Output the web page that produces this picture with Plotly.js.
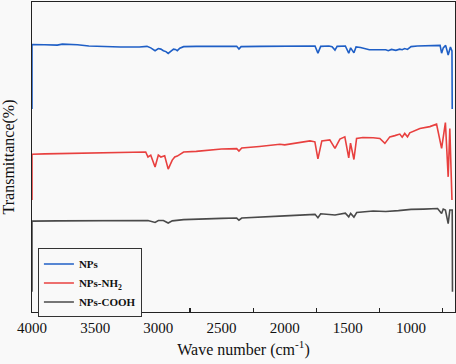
<!DOCTYPE html>
<html>
<head>
<meta charset="utf-8">
<script src="https://cdn.plot.ly/plotly-3.0.1.min.js"></script>
<style>html,body{margin:0;padding:0;background:#f9f9f9;}#chart{width:456px;height:364px;}</style>
</head>
<body>
<div id="chart"></div>
<script>
// Series names
const seriesNames = ["NPs", "NPs-NH<sub>2</sub>", "NPs-COOH"];

// Wavenumbers (cm-1) and transmittance (arbitrary %, offset traces)
const npsWave = [4000,4000,3900,3800,3760,3700,3640,3550,3450,3300,3150,3090,3060,3026,3000,2980,2960,2940,2922,2900,2880,2865,2850,2830,2800,2700,2500,2380,2362,2345,2200,2000,1800,1760,1737,1715,1650,1625,1602,1585,1520,1493,1478,1452,1435,1400,1330,1250,1200,1180,1155,1120,1090,1070,1050,1028,1000,950,900,850,800,790,770,758,745,726,706,688,676,674];
const npsT    = [65.5,86.3,86.2,86.1,86.4,86.3,86.2,85.8,85.6,85.5,85.5,85.7,85.2,84.3,85.0,84.8,84.3,84.0,83.4,84.1,84.8,84.7,84.3,85.1,85.6,85.7,85.6,85.7,84.8,85.6,85.7,85.8,85.8,85.8,83.5,85.7,85.8,85.6,84.5,85.7,85.8,83.5,85.2,83.6,85.5,85.3,84.6,84.5,84.6,84.3,84.7,84.4,84.8,84.6,85.0,84.7,85.6,85.8,85.8,85.9,86.0,85.9,86.0,83.5,85.2,86.0,82.9,85.5,84.2,65.5];

const nh2Wave = [4000,4000,3900,3800,3600,3400,3200,3100,3082,3060,3026,3000,2980,2950,2922,2890,2870,2850,2800,2700,2500,2380,2362,2340,2200,2038,2000,1900,1800,1761,1737,1706,1643,1602,1563,1524,1493,1479,1452,1431,1381,1300,1247,1207,1168,1128,1089,1070,1050,1028,1010,930,851,798,758,728,706,693,676];
const nh2T    = [36.1,50.9,51.0,51.1,51.1,51.3,51.5,51.6,50.0,50.6,46.8,50.6,50.0,50.4,46.1,49.0,50.0,50.3,51.6,51.8,52.6,52.7,51.9,52.9,53.4,54.1,53.9,54.5,55.2,54.9,49.4,55.2,55.5,52.8,55.8,56.5,49.7,54.5,49.2,56.0,56.3,56.2,56.0,54.4,56.5,56.9,57.4,56.4,57.6,56.5,57.8,59.2,59.8,60.6,52.8,61.1,43.6,59.2,36.1];

const coohWave = [4000,4000,3800,3500,3200,3082,3026,3000,2960,2922,2890,2850,2800,2500,2380,2362,2340,2000,1800,1760,1737,1715,1602,1520,1493,1478,1452,1430,1300,1200,1100,1000,900,800,790,758,745,728,706,693,674,672];
const coohT    = [6.5,29.3,29.4,29.5,29.7,29.5,28.9,29.5,29.5,28.7,29.4,29.5,29.8,30.2,30.3,29.6,30.3,31.0,31.5,31.5,30.4,31.7,31.3,31.9,30.7,31.8,30.6,32.1,32.6,32.4,32.7,33.1,33.2,33.5,33.4,31.8,33.2,32.9,28.5,32.9,32.9,6.5];

// x-axis tick labels and small tick positions
const xTickVals = [4000,3500,3000,2500,2000,1500,1000];
const xTickText = ["4000","3500","3000","2500","2000","1500","1000"];
const xMinorVals = [3750,3250,2750,2250,1750,1250,750];

const colors = ["#1f5fc6", "#e8403f", "#4a4a4a"];
const serif = "Liberation Serif, Times New Roman, serif";
const xRange = [4000, 652];

const traces = [
  {x: npsWave, y: npsT, name: seriesNames[0]},
  {x: nh2Wave, y: nh2T, name: seriesNames[1]},
  {x: coohWave, y: coohT, name: seriesNames[2]}
].map((t, i) => Object.assign(t, {
  type: "scatter", mode: "lines",
  line: {color: colors[i], width: 1.6},
  hoverinfo: "skip"
}));

const layout = {
  width: 456, height: 364,
  margin: {l: 32, r: 1, t: 2, b: 52},
  paper_bgcolor: "#f9f9f9",
  plot_bgcolor: "#f9f9f9",
  showlegend: true,
  legend: {
    x: 0.014, y: 0.205, xanchor: "left", yanchor: "top",
    bgcolor: "#f9f9f9", bordercolor: "#333", borderwidth: 1,
    font: {family: serif, size: 11, color: "#111", weight: "bold"},
    itemwidth: 30, tracegroupgap: 0
  },
  xaxis: {
    range: xRange, autorange: false,
    tickmode: "array", tickvals: xTickVals, ticktext: xTickText,
    ticks: "inside", ticklen: 4, tickwidth: 1, tickcolor: "rgba(0,0,0,0)",
    ticklabelstandoff: 2, showgrid: false, zeroline: false,
    showline: true, mirror: true, linecolor: "#222", linewidth: 1.3,
    tickfont: {family: serif, size: 15, color: "#111"},
    minor: {tickmode: "array", tickvals: xMinorVals, ticks: "inside", ticklen: 4, tickwidth: 1.2, tickcolor: "#222", showgrid: false},
    title: {text: "Wave number (cm<sup>-1</sup>)", font: {family: serif, size: 16, color: "#111"}, standoff: 8}
  },
  yaxis: {
    range: [0, 100], autorange: false,
    showticklabels: false, ticks: "", showgrid: false, zeroline: false,
    showline: true, mirror: true, linecolor: "#222", linewidth: 1.3,
    layer: "below traces",
    title: {text: "Transmittance(%)", font: {family: serif, size: 16, color: "#111"}, standoff: 14}
  }
};

Plotly.newPlot("chart", traces, layout, {displayModeBar: false, staticPlot: true});
</script>
</body>
</html>
